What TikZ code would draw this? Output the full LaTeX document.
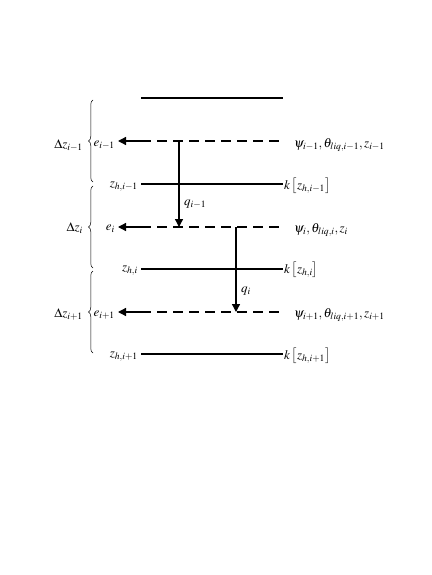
\documentclass[tikz,border=0pt]{standalone}
\usepackage{mathptmx}
\usetikzlibrary{arrows.meta,decorations.pathreplacing}
\begin{document}
\begin{tikzpicture}[x=1pt,y=-1pt,
  layer/.style={line width=2pt},
  dashlayer/.style={line width=2pt,dash pattern=on 10pt off 6pt},
  flux/.style={line width=1.3pt,-{Triangle[length=8pt,width=8pt]}},
  lbl/.style={inner sep=1pt,font=\fontsize{13}{15}\selectfont},
  brc/.style={decorate,decoration={brace,amplitude=4.5pt},line width=0.5pt}]
\useasboundingbox (0,0) rectangle (431,575);
% coordinates
\foreach \n/\y in {t/98,a/141,b/184,c/227,d/269,e/312,f/354}{
  \coordinate (L\n) at (141,\y);
  \coordinate (R\n) at (283,\y);
}
\coordinate (Aa) at (118,141);
\coordinate (Ac) at (118,227);
\coordinate (Ae) at (118,312);
% solid layers
\draw[layer] (Lt) -- (Rt);
\draw[layer] (Lb) -- (Rb);
\draw[layer] (Ld) -- (Rd);
\draw[layer] (Lf) -- (Rf);
% dashed layers
\draw[dashlayer] (La) -- (Ra);
\draw[dashlayer] (Lc) -- (Rc);
\draw[dashlayer] (Le) -- (Re);
% left arrows
\draw[flux] (La) -- (Aa);
\draw[flux] (Lc) -- (Ac);
\draw[flux] (Le) -- (Ae);
% vertical fluxes
\coordinate (q1s) at (179,141);
\coordinate (q1e) at (179,227);
\coordinate (q2s) at (236,227);
\coordinate (q2e) at (236,312);
\draw[flux] (q1s) -- (q1e);
\draw[flux] (q2s) -- (q2e);
\node[lbl,anchor=west] (q1) at (183,204) {$q_{i-1}$};
\node[lbl,anchor=west] (q2) at (240,291) {$q_{i}$};
% left labels
\node[lbl,anchor=east] (ea) at (116,145) {$e_{i-1}$};
\node[lbl,anchor=east] (ec) at (116,229) {$e_{i}$};
\node[lbl,anchor=east] (ee) at (116,315) {$e_{i+1}$};
\node[lbl,anchor=east] (zb) at (139,187) {$z_{h,i-1}$};
\node[lbl,anchor=east] (zd) at (139,271) {$z_{h,i}$};
\node[lbl,anchor=east] (zf) at (139,357) {$z_{h,i+1}$};
\node[lbl,anchor=east] (da) at (84,145) {$\Delta z_{i-1}$};
\node[lbl,anchor=east] (dc) at (84,228) {$\Delta z_{i}$};
\node[lbl,anchor=east] (de) at (84,314) {$\Delta z_{i+1}$};
% braces
\coordinate (B1b) at (93,182); \coordinate (B1t) at (93,100);
\coordinate (B2b) at (93,268); \coordinate (B2t) at (93,186);
\coordinate (B3b) at (93,353); \coordinate (B3t) at (93,271);
\draw[brc] (B1b) -- (B1t);
\draw[brc] (B2b) -- (B2t);
\draw[brc] (B3b) -- (B3t);
% right labels
\node[lbl,anchor=west] (pa) at (293,145) {$\psi_{i-1},\theta_{liq,i-1},z_{i-1}$};
\node[lbl,anchor=west] (pc) at (293,230) {$\psi_{i},\theta_{liq,i},z_{i}$};
\node[lbl,anchor=west] (pe) at (293,315) {$\psi_{i+1},\theta_{liq,i+1},z_{i+1}$};
\node[lbl,anchor=west,inner sep=0pt] (kb) at (284,186) {$k\left[z_{h,i-1}\right]$};
\node[lbl,anchor=west,inner sep=0pt] (kd) at (284,270) {$k\left[z_{h,i}\right]$};
\node[lbl,anchor=west,inner sep=0pt] (kf) at (284,356) {$k\left[z_{h,i+1}\right]$};
\end{tikzpicture}
\end{document}
